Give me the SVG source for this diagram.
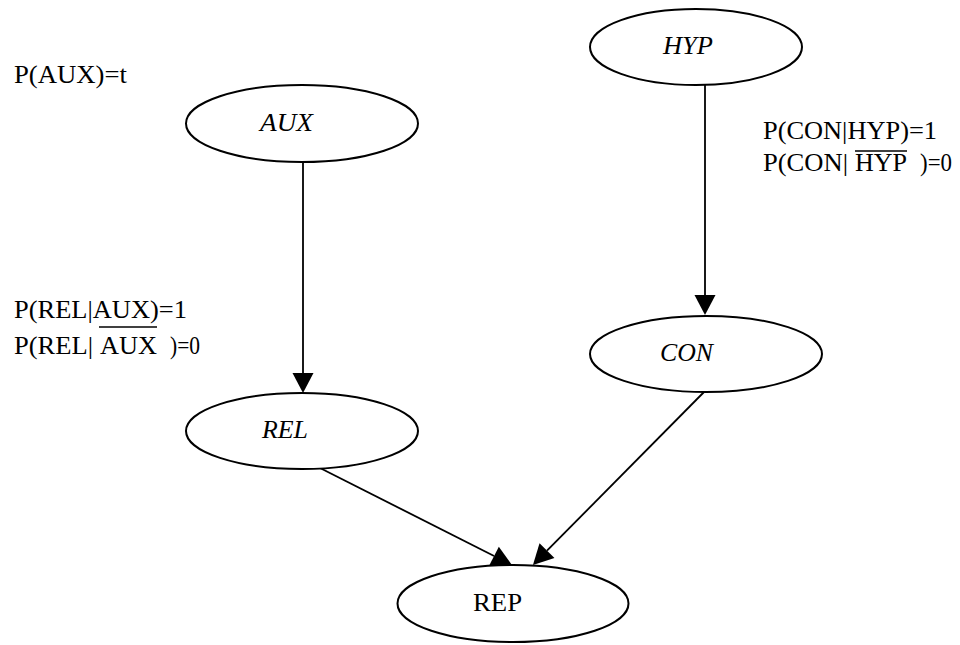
<svg xmlns="http://www.w3.org/2000/svg" width="960" height="645" viewBox="0 0 960 645">
  <defs>
    <style>
      .node ellipse { fill: #ffffff; stroke: #000000; stroke-width: 2; }
      .lbl { font-family: "Liberation Serif", "Times New Roman", serif; font-size: 26px; fill: #000000; }
      .it { font-style: italic; }
      .edge { stroke: #000000; stroke-width: 1.8; fill: none; marker-end: url(#arrow); }
      .bar { stroke: #000000; stroke-width: 1.5; }
    </style>
    <!-- filled arrowhead, base at the path end, tip 20px beyond it -->
    <marker id="arrow" markerUnits="userSpaceOnUse" markerWidth="21" markerHeight="22" refX="0" refY="10.5" orient="auto" overflow="visible">
      <path d="M0,0 L20,10.5 L0,21 Z" fill="#000000"/>
    </marker>
  </defs>
  <rect width="960" height="645" fill="#ffffff"/>

  <!-- connectors -->
  <g id="edges">
    <line class="edge" x1="303" y1="162" x2="303" y2="373"/>
    <line class="edge" x1="705" y1="85" x2="705" y2="295"/>
    <line class="edge" x1="320" y1="468" x2="494.1" y2="556"/>
    <line class="edge" x1="705" y1="391" x2="547" y2="550.7"/>
  </g>

  <!-- nodes -->
  <g id="node-aux" class="node">
    <ellipse cx="302" cy="123.5" rx="116" ry="38.5"/>
    <text class="lbl it" x="260" y="131" textLength="53" lengthAdjust="spacingAndGlyphs">AUX</text>
  </g>
  <g id="node-hyp" class="node">
    <ellipse cx="696" cy="47" rx="106" ry="38"/>
    <text class="lbl it" x="663" y="54" textLength="50" lengthAdjust="spacingAndGlyphs">HYP</text>
  </g>
  <g id="node-rel" class="node">
    <ellipse cx="302" cy="431" rx="116" ry="38"/>
    <text class="lbl it" x="262" y="438" textLength="46" lengthAdjust="spacingAndGlyphs">REL</text>
  </g>
  <g id="node-con" class="node">
    <ellipse cx="706" cy="354" rx="116" ry="38"/>
    <text class="lbl it" x="660" y="361" textLength="53" lengthAdjust="spacingAndGlyphs">CON</text>
  </g>
  <g id="node-rep" class="node">
    <ellipse cx="513" cy="603.5" rx="115.5" ry="38.5"/>
    <text class="lbl" x="473" y="611" textLength="49" lengthAdjust="spacingAndGlyphs">REP</text>
  </g>

  <!-- probability annotations -->
  <g id="prob-aux">
    <text class="lbl" x="14" y="83" textLength="113" lengthAdjust="spacingAndGlyphs">P(AUX)=t</text>
  </g>
  <g id="prob-rel">
    <text class="lbl" x="14" y="318" textLength="173" lengthAdjust="spacingAndGlyphs">P(REL|AUX)=1</text>
    <text class="lbl" y="354"><tspan x="14" textLength="79" lengthAdjust="spacingAndGlyphs">P(REL|</tspan><tspan x="100" textLength="57" lengthAdjust="spacingAndGlyphs">AUX</tspan><tspan x="170" textLength="30" lengthAdjust="spacingAndGlyphs">)=0</tspan></text>
    <line class="bar" x1="99" y1="327" x2="157" y2="327"/>
  </g>
  <g id="prob-con">
    <text class="lbl" x="763" y="139" textLength="174" lengthAdjust="spacingAndGlyphs">P(CON|HYP)=1</text>
    <text class="lbl" y="171"><tspan x="763" textLength="85" lengthAdjust="spacingAndGlyphs">P(CON|</tspan><tspan x="855" textLength="52" lengthAdjust="spacingAndGlyphs">HYP</tspan><tspan x="920" textLength="32" lengthAdjust="spacingAndGlyphs">)=0</tspan></text>
    <line class="bar" x1="855" y1="151" x2="907" y2="151"/>
  </g>
</svg>
